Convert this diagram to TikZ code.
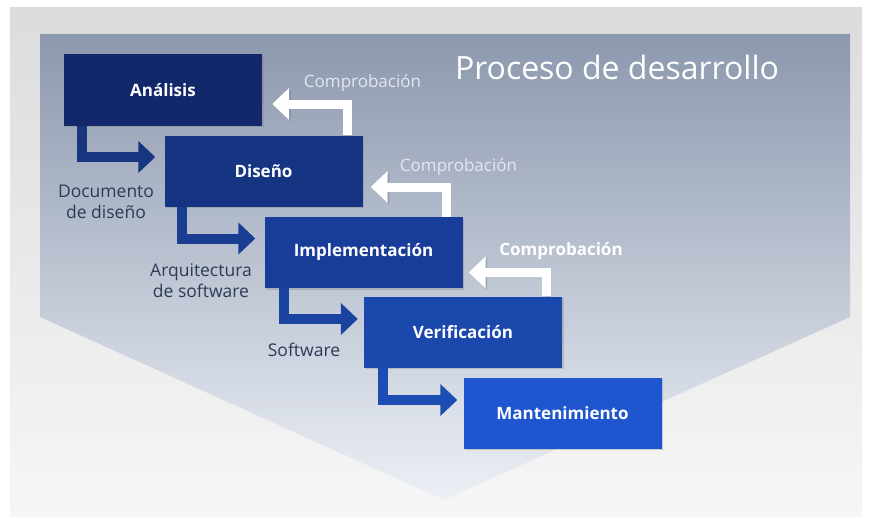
\documentclass[tikz,border=0pt]{standalone}
\usepackage{fontspec}
\setmainfont{Open Sans}
\usetikzlibrary{arrows.meta,shadows}

\definecolor{framegray}{HTML}{DCDCDC}
\definecolor{framelight}{HTML}{F6F6F6}
\definecolor{paneltop}{HTML}{8C98AE}
\definecolor{panelmid}{HTML}{B6C3D8}
\definecolor{panelbot}{HTML}{ECF0F6}
\definecolor{boxA}{HTML}{12286A}
\definecolor{boxB}{HTML}{153482}
\definecolor{boxC}{HTML}{183D98}
\definecolor{boxD}{HTML}{1B48AD}
\definecolor{boxE}{HTML}{1F55CF}
\definecolor{arrA}{HTML}{17367F}
\definecolor{arrB}{HTML}{193D90}
\definecolor{arrC}{HTML}{1A44A0}
\definecolor{arrD}{HTML}{1C4DB3}
\definecolor{notegray}{HTML}{2E3A55}
\definecolor{checkgray}{HTML}{E4E8EF}

\tikzset{
  stage/.style={minimum width=198pt, minimum height=71pt, inner sep=0pt,
    text=white, font=\fontsize{17}{20}\selectfont\bfseries,
    drop shadow={shadow xshift=1.5pt, shadow yshift=-1.5pt, opacity=0.35}},
  downarr/.style={line width=10pt, -{Triangle[length=17pt,width=31pt]}},
  checkarr/.style={draw=white, line width=9pt, -{Triangle[length=17pt,width=31pt]},
    preaction={draw=black, draw opacity=0.15, transform canvas={shift={(1.5pt,-1.5pt)}}}},
  note/.style={text=notegray, font=\fontsize{17.5}{21}\selectfont, align=center},
  checklabel/.style={text=checkgray, font=\fontsize{17}{20}\selectfont, anchor=base}
}

\begin{document}
\begin{tikzpicture}[x=1pt,y=-1pt]
      \useasboundingbox (0,0) rectangle (870,519);

      % Background
      \fill[white] (0,0) rectangle (870,519);
      \shade[top color=framegray, bottom color=framelight] (10,8) rectangle (862,516);
      \shade[top color=paneltop, middle color=panelmid, bottom color=panelbot]
        (40,34) -- (850,34) -- (850,317) -- (444,500) -- (40,317) -- cycle;

      % Title
      \node[text=white, font=\fontsize{32}{38}\selectfont, anchor=base] (titulo) at (617,80) {Proceso de desarrollo};

      % Stages
      \node[stage, fill=boxA] (ana) at (163,90) {Análisis};
      \node[stage, fill=boxB] (dis) at (263.5,171) {Diseño};
      \node[stage, fill=boxC] (imp) at (363.5,252.5) {Implementación};
      \node[stage, fill=boxD] (ver) at (463,332) {Verificación};
      \node[stage, fill=boxE] (man) at (562.5,413) {Mantenimiento};

      % Forward arrows
      \draw[downarr, arrA] ([xshift=18pt]ana.south west) |- ([xshift=-9pt,yshift=14pt]dis.west);
      \draw[downarr, arrB] ([xshift=18pt]dis.south west) |- ([xshift=-9pt,yshift=14pt]imp.west);
      \draw[downarr, arrC] ([xshift=20pt]imp.south west) |- ([xshift=-6pt,yshift=13pt]ver.west);
      \draw[downarr, arrD] ([xshift=19pt]ver.south west) |- ([xshift=-6pt,yshift=13pt]man.west);

      % Check arrows
      \draw[checkarr] ([xshift=-15pt]dis.north east) |- ([xshift=10pt,yshift=-14pt]ana.east);
      \draw[checkarr] ([xshift=-16pt]imp.north east) |- ([xshift=8pt,yshift=-16pt]dis.east);
      \draw[checkarr] ([xshift=-16pt]ver.north east) |- ([xshift=6pt,yshift=-20pt]imp.east);

      % Labels
      \node[checklabel] (chkA) at (362.5,87) {Comprobación};
      \node[checklabel] (chkB) at (458.5,171) {Comprobación};
      \node[checklabel, text=white, font=\fontsize{17}{20}\selectfont\bfseries] (chkC) at (561,255) {Comprobación};
      \node[note] (docu) at (106,202) {Documento\\de diseño};
      \node[note] (arqu) at (201,281) {Arquitectura\\de software};
      \node[note] (soft) at (304,350) {Software};
    \end{tikzpicture}
\end{document}
